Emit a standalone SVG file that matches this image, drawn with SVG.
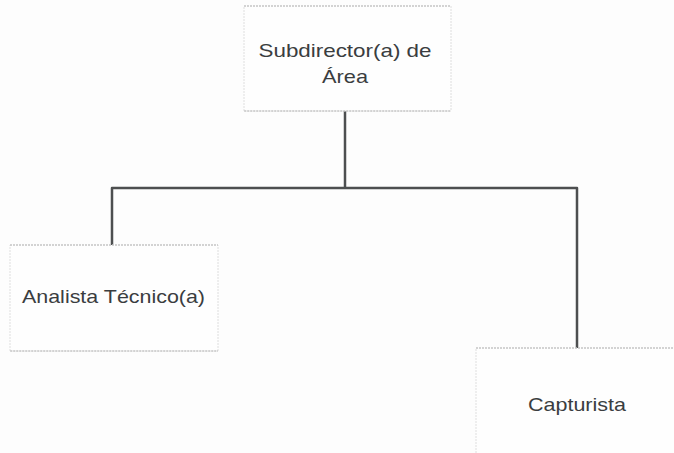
<svg xmlns="http://www.w3.org/2000/svg" width="674" height="453" viewBox="0 0 674 453">
<style>
.box{fill:#fefefe;stroke:#dedede;stroke-width:1;stroke-dasharray:2 1}
.edge{stroke:#b8b8b8;stroke-width:1;stroke-dasharray:2 1}
.lbl{font-family:"Liberation Sans","Noto Sans",sans-serif;font-size:19px;fill:#3a3d40}
.conn{fill:none;stroke:#4d4f50;stroke-width:2.5;stroke-linejoin:round}
</style>
<rect width="674" height="453" fill="#fdfdfd"/>
<g id="connectors">
<path class="conn" d="M345 111 V188"/>
<path class="conn" d="M112 245 V188 H577 V348"/>
</g>
<g id="node-subdirector">
<rect class="box" x="244" y="6" width="207" height="105"/>
<path class="edge" d="M244 6 H451 M244 111 H451"/>
<text class="lbl" x="345" y="57" text-anchor="middle" textLength="173" lengthAdjust="spacingAndGlyphs">Subdirector(a) de</text>
<text class="lbl" x="345" y="83" text-anchor="middle" textLength="46" lengthAdjust="spacingAndGlyphs">Área</text>
</g>
<g id="node-analista">
<rect class="box" x="10" y="245" width="208" height="106"/>
<path class="edge" d="M10 245 H218 M10 351 H218"/>
<text class="lbl" x="22" y="303" textLength="183" lengthAdjust="spacingAndGlyphs">Analista Técnico(a)</text>
</g>
<g id="node-capturista">
<rect class="box" x="476" y="348" width="210" height="120"/>
<path class="edge" d="M476 348 H674"/>
<text class="lbl" x="577" y="411" text-anchor="middle" textLength="98" lengthAdjust="spacingAndGlyphs">Capturista</text>
</g>
</svg>
